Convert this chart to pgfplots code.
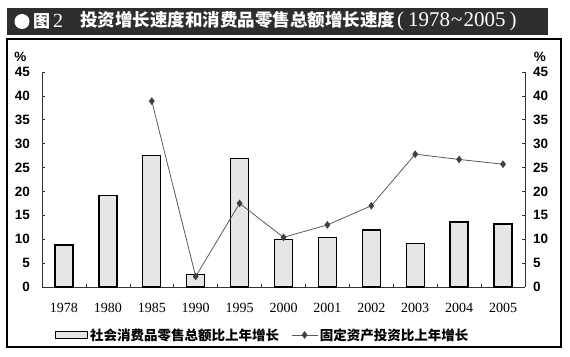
\documentclass[border=0pt]{standalone}
\usepackage{pgfplots}
\pgfplotsset{compat=1.18}
\usepackage{fontspec}
\setmainfont{Liberation Serif}
\newfontfamily\sansf{Liberation Sans}
\newfontfamily\cjk{Noto Sans CJK SC}
\definecolor{barfill}{HTML}{E6E6E6}
\definecolor{linec}{HTML}{5A5A5A}
\definecolor{markc}{HTML}{404040}
\pgfplotsset{
  linelegend/.style={legend image code/.code={\draw[mark repeat=2,mark phase=2,##1] plot coordinates {(0pt,0pt) (13pt,0pt) (26pt,0pt)};}},
  barlegend/.style={legend image code/.code={\draw[fill=barfill, draw=black, line width=1.2pt] (0pt,-3.5pt) rectangle (32pt,3.5pt);}},
}
\begin{document}
\begin{tikzpicture}
\begin{scope}[x=1pt,y=1pt]
\path[use as bounding box] (0,0) rectangle (570,356);
% title bar
\fill[black!82] (7,321) rectangle (548,348);
\fill[white] (22,334.5) circle (7.5);
\node[anchor=west, inner sep=0pt, text=white] at (33,334.5) {\cjk\bfseries\fontsize{17}{17}\selectfont 图\,{\rmfamily\mdseries\fontsize{20}{20}\selectfont 2}};
\node[anchor=west, inner sep=0pt, text=white] at (80,334.5) {\cjk\bfseries\fontsize{17.5}{17.5}\selectfont 投资增长速度和消费品零售总额增长速度{\rmfamily\mdseries\fontsize{21}{21}\selectfont\hspace{2pt}(\hspace{4pt}1978\hspace{1pt}\textasciitilde\hspace{1pt}2005\hspace{4pt})}};
% frame
\draw[line width=1.5pt] (7,9) rectangle (561,317);
\end{scope}
\begin{axis}[
  at={(42pt,69pt)}, anchor=south west, scale only axis,
  width=483pt, height=215pt,
  xmin=-0.5, xmax=10.5, ymin=0, ymax=45,
  axis x line*=bottom, axis y line*=left,
  axis line style={black!80, line width=0.8pt},
  xtick={0,...,10},
  xticklabels={1978,1980,1985,1990,1995,2000,2001,2002,2003,2004,2005},
  major x tick style={draw=none},
  minor xtick={0.5,1.5,...,9.5},
  minor tick length=3pt,
  minor x tick style={black!80, line width=0.6pt},
  tick align=inside,
  ytick={0,5,...,45},
  major tick length=3pt,
  ytick style={black!80, line width=0.6pt},
  xticklabel style={font=\rmfamily\fontsize{14}{14}\selectfont, inner sep=0pt, yshift=-16pt},
  yticklabel style={font=\sansf\bfseries\fontsize{13.5}{13.5}\selectfont, inner sep=0pt, xshift=-12pt},
  /pgf/number format/assume math mode=true,
  legend style={at={(0.457,-0.223)}, anchor=center, draw=none, fill=none,
    legend columns=2, font=\cjk\bfseries\fontsize{13.5}{13.5}\selectfont,
    /tikz/every even column/.append style={column sep=10pt},
    inner sep=0pt},
  legend cell align=left,
  clip=false,
]
\addplot[ybar, bar width=18pt, fill=barfill, draw=black, line width=1.4pt, barlegend]
  coordinates {(0,8.8) (1,19.1) (2,27.5) (3,2.6) (4,26.9) (5,9.9) (6,10.3) (7,11.9) (8,9.1) (9,13.6) (10,13.2)};
\addlegendentry{社会消费品零售总额比上年增长}
\addplot[color=linec, line width=0.8pt, mark=diamond*, mark size=3.2pt,
  mark options={fill=markc, draw=markc, solid}, linelegend]
  coordinates {(2,38.9) (3,2.2) (4,17.5) (5,10.4) (6,13.0) (7,17.0) (8,27.8) (9,26.7) (10,25.7)};
\addlegendentry{固定资产投资比上年增长}
\node[font=\sansf\bfseries\fontsize{13.5}{13.5}\selectfont, inner sep=0pt] at (axis description cs:-0.045,1.07) {\%};
\node[font=\sansf\bfseries\fontsize{13.5}{13.5}\selectfont, inner sep=0pt] at (axis description cs:1.031,1.07) {\%};
\end{axis}
\begin{axis}[
  at={(42pt,69pt)}, anchor=south west, scale only axis,
  width=483pt, height=215pt,
  xmin=-0.5, xmax=10.5, ymin=0, ymax=45,
  axis x line=none, axis y line*=right,
  axis line style={black!80, line width=0.8pt},
  ytick={0,5,...,45},
  tick align=inside, major tick length=3pt,
  ytick style={black!80, line width=0.6pt},
  yticklabel style={font=\sansf\bfseries\fontsize{13.5}{13.5}\selectfont, inner sep=0pt, xshift=8pt, anchor=west},
  /pgf/number format/assume math mode=true,
]
\end{axis}
\end{tikzpicture}
\end{document}
